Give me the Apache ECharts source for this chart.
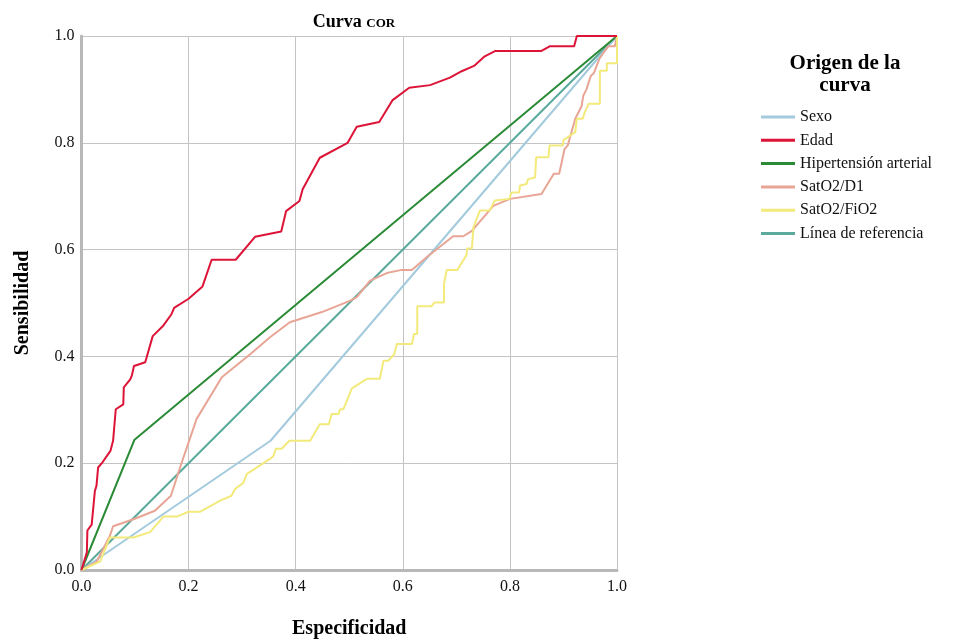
<!DOCTYPE html>
<html>
<head>
<meta charset="utf-8">
<script src="https://cdn.jsdelivr.net/npm/echarts@6/dist/echarts.min.js"></script>
<style>html,body{margin:0;padding:0;background:#fff;}#c{width:966px;height:642px;}</style>
</head>
<body>
<div id="c"></div>
<script>
var seriesNames = ['Sexo', 'Edad', 'Hipertensión arterial', 'SatO2/D1', 'SatO2/FiO2', 'Línea de referencia'];
var xTicks = [0, 0.2, 0.4, 0.6, 0.8, 1.0];
var yTicks = [0, 0.2, 0.4, 0.6, 0.8, 1.0];

var sexoPts = [[0,0],[0.353,0.242],[1,1]];
var edadPts = [[0,0],[0.01,0.033],[0.011,0.074],[0.019,0.085],[0.025,0.148],[0.028,0.158],[0.031,0.192],[0.038,0.2],[0.054,0.223],[0.059,0.242],[0.064,0.301],[0.078,0.31],[0.079,0.342],[0.091,0.357],[0.094,0.364],[0.098,0.382],[0.119,0.389],[0.133,0.438],[0.153,0.458],[0.168,0.479],[0.173,0.491],[0.2,0.508],[0.226,0.531],[0.243,0.581],[0.288,0.581],[0.324,0.624],[0.373,0.634],[0.382,0.672],[0.407,0.691],[0.413,0.713],[0.445,0.772],[0.497,0.8],[0.514,0.83],[0.556,0.839],[0.581,0.88],[0.612,0.903],[0.651,0.908],[0.688,0.922],[0.71,0.934],[0.733,0.944],[0.753,0.962],[0.773,0.972],[0.859,0.972],[0.875,0.981],[0.92,0.981],[0.925,1.0],[1,1]];
var htaPts = [[0,0],[0.099,0.244],[1,1]];
var d1Pts = [[0,0],[0.028,0.015],[0.053,0.064],[0.059,0.082],[0.097,0.095],[0.137,0.111],[0.167,0.139],[0.184,0.192],[0.215,0.283],[0.259,0.356],[0.262,0.361],[0.315,0.404],[0.352,0.436],[0.389,0.464],[0.449,0.483],[0.501,0.504],[0.514,0.511],[0.539,0.542],[0.57,0.556],[0.598,0.562],[0.617,0.562],[0.645,0.586],[0.694,0.625],[0.713,0.625],[0.729,0.635],[0.769,0.682],[0.8,0.695],[0.859,0.704],[0.882,0.742],[0.892,0.742],[0.902,0.788],[0.908,0.795],[0.922,0.845],[0.934,0.869],[0.937,0.888],[0.943,0.9],[0.951,0.925],[0.957,0.931],[0.967,0.957],[0.975,0.969],[0.984,0.981],[0.996,0.981],[1,1]];
var fio2Pts = [[0,0],[0.035,0.016],[0.053,0.061],[0.097,0.061],[0.128,0.071],[0.153,0.1],[0.178,0.1],[0.2,0.109],[0.221,0.109],[0.259,0.13],[0.28,0.139],[0.287,0.152],[0.302,0.163],[0.309,0.18],[0.352,0.208],[0.358,0.213],[0.363,0.227],[0.374,0.227],[0.388,0.242],[0.427,0.242],[0.445,0.273],[0.462,0.273],[0.467,0.292],[0.48,0.292],[0.483,0.301],[0.489,0.301],[0.505,0.34],[0.533,0.358],[0.557,0.358],[0.564,0.392],[0.573,0.392],[0.584,0.404],[0.589,0.423],[0.617,0.423],[0.621,0.442],[0.627,0.442],[0.627,0.494],[0.654,0.494],[0.659,0.501],[0.677,0.501],[0.677,0.536],[0.682,0.562],[0.702,0.562],[0.719,0.59],[0.72,0.602],[0.729,0.602],[0.732,0.642],[0.744,0.673],[0.762,0.673],[0.772,0.692],[0.799,0.695],[0.803,0.707],[0.817,0.707],[0.819,0.72],[0.831,0.723],[0.834,0.732],[0.847,0.735],[0.849,0.773],[0.872,0.773],[0.874,0.795],[0.899,0.795],[0.9,0.805],[0.922,0.82],[0.925,0.845],[0.936,0.845],[0.939,0.855],[0.947,0.873],[0.968,0.873],[0.968,0.935],[0.981,0.935],[0.981,0.949],[1,0.949],[1,1]];
var refPts = [[0,0],[1,1]];

var colors = ['#a3cadd', '#dc1438', '#2a8a35', '#e8a596', '#f3ea7c', '#5ba99c'];
var FONT = '"Liberation Serif", "DejaVu Serif", serif';

var allData = [sexoPts, edadPts, htaPts, d1Pts, fio2Pts, refPts];
var drawOrder = [5, 0, 2, 3, 4, 1];
var series = drawOrder.map(function (i) {
  return {
    name: seriesNames[i],
    type: 'line',
    data: allData[i],
    symbol: 'none',
    showSymbol: false,
    animation: false,
    lineStyle: { color: colors[i], width: 2 },
    itemStyle: { color: colors[i] },
    z: 3
  };
});

var chart = echarts.init(document.getElementById('c'), null, { renderer: 'canvas' });
chart.setOption({
  backgroundColor: '#ffffff',
  animation: false,
  color: colors,
  title: [
    {
      text: '{a|Curva }{b|COR}',
      left: 349,
      top: 8,
      textAlign: 'center',
      textStyle: {
        rich: {
          a: { fontFamily: FONT, fontSize: 18, fontWeight: 'bold', color: '#000', verticalAlign: 'bottom' },
          b: { fontFamily: FONT, fontSize: 13, fontWeight: 'bold', color: '#000', verticalAlign: 'bottom', padding: [0, 0, 1, 0] }
        }
      }
    },
    {
      text: 'Origen de la\ncurva',
      left: 840,
      top: 48,
      textAlign: 'center',
      textStyle: { fontFamily: FONT, fontSize: 21, fontWeight: 'bold', color: '#000', lineHeight: 22, align: 'center' }
    }
  ],
  legend: {
    orient: 'vertical',
    left: 756,
    top: 104,
    data: seriesNames,
    icon: 'rect',
    itemWidth: 34,
    itemHeight: 3,
    itemGap: 7.3,
    textStyle: { fontFamily: FONT, fontSize: 16, color: '#111', lineHeight: 15, padding: [0, 0, 0, 0] },
    selectedMode: false
  },
  grid: { left: 81.5, right: 349, top: 36, bottom: 72, containLabel: false, outerBoundsMode: 'none' },
  xAxis: {
    type: 'value',
    min: 0, max: 1, interval: 0.2,
    name: 'Especificidad',
    nameLocation: 'middle',
    nameGap: 49,
    nameTextStyle: { fontFamily: FONT, fontSize: 20, fontWeight: 'bold', color: '#000' },
    axisLine: { show: true, lineStyle: { color: '#b8b8b8', width: 3 } },
    axisTick: { show: false },
    axisLabel: { fontFamily: FONT, fontSize: 16, color: '#111', margin: 9, formatter: function (v) { return v.toFixed(1); } },
    splitLine: { show: true, lineStyle: { color: '#c4c4c4', width: 1 } }
  },
  yAxis: {
    type: 'value',
    min: 0, max: 1, interval: 0.2,
    name: 'Sensibilidad',
    nameLocation: 'middle',
    nameGap: 49,
    nameRotate: 90,
    nameTextStyle: { fontFamily: FONT, fontSize: 20, fontWeight: 'bold', color: '#000' },
    axisLine: { show: true, lineStyle: { color: '#b8b8b8', width: 3 } },
    axisTick: { show: false },
    axisLabel: { fontFamily: FONT, fontSize: 16, color: '#111', margin: 7, formatter: function (v) { return v.toFixed(1); } },
    splitLine: { show: true, lineStyle: { color: '#c4c4c4', width: 1 } }
  },
  series: series
});
</script>
</body>
</html>
